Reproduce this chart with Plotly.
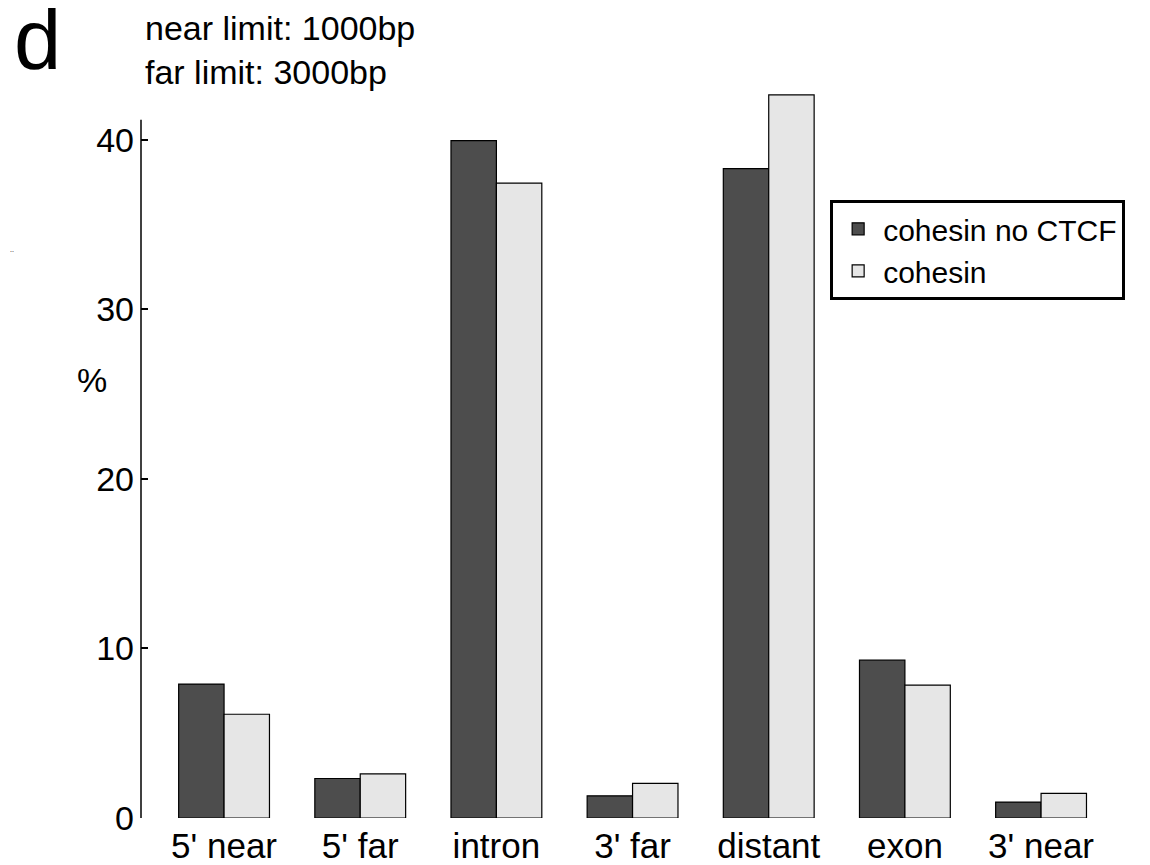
import plotly.graph_objects as go

categories = ["5' near", "5' far", "intron", "3' far", "distant", "exon", "3' near"]
cohesin_no_ctcf = [7.9, 2.33, 39.95, 1.31, 38.3, 9.31, 0.94]
cohesin = [6.12, 2.6, 37.45, 2.04, 42.65, 7.84, 1.45]
y_ticks = [0, 10, 20, 30, 40]
axis_top = 41.18

FONT = "Liberation Sans, Arial, sans-serif"

fig = go.Figure()
fig.add_trace(go.Bar(
    x=categories, y=cohesin_no_ctcf, name="cohesin no CTCF",
    marker=dict(color="#4d4d4d", line=dict(color="black", width=1.2)),
))
fig.add_trace(go.Bar(
    x=categories, y=cohesin, name="cohesin",
    marker=dict(color="#e6e6e6", line=dict(color="black", width=1.2)),
))

fig.update_layout(
    width=1150, height=865,
    margin=dict(l=133, r=8, t=81, b=53),
    paper_bgcolor="white", plot_bgcolor="white",
    barmode="group", bargap=0.333, bargroupgap=0,
    font=dict(family=FONT, color="black"),
    showlegend=True,
    legend=dict(
        x=0.683, y=0.848, xanchor="left", yanchor="top",
        bordercolor="black", borderwidth=3, bgcolor="white",
        font=dict(size=30, family=FONT), tracegroupgap=0,
        itemwidth=40,
    ),
    xaxis=dict(
        type="category", range=[-0.61, 6.8],
        showline=False, showgrid=False, zeroline=False,
        ticks="", tickfont=dict(size=35, family=FONT), ticklabelstandoff=4,
    ),
    yaxis=dict(
        range=[0, 43], tickvals=y_ticks,
        showline=False,
        ticks="inside", ticklen=7, tickwidth=1.5, tickcolor="black",
        showgrid=False, zeroline=False,
        tickfont=dict(size=34, family=FONT), ticklabelstandoff=6,
    ),
    shapes=[dict(type="line", xref="paper", yref="y", x0=0, x1=0, y0=0, y1=axis_top,
                 line=dict(color="black", width=1.5))],
)

fig.add_annotation(text="d", xref="paper", yref="paper", x=-0.1026, y=1.068,
                   xanchor="center", yanchor="middle", showarrow=False,
                   font=dict(size=85, family=FONT))
fig.add_annotation(text="near limit: 1000bp<br>far limit: 3000bp", xref="paper", yref="paper",
                   x=0.002, y=1.053, xanchor="left", yanchor="middle", align="left",
                   showarrow=False, font=dict(size=34, family=FONT))
fig.add_annotation(text="%", xref="paper", yref="paper", x=-0.0486, y=0.601,
                   xanchor="center", yanchor="middle", showarrow=False,
                   font=dict(size=34, family=FONT))
fig.add_annotation(text="..", xref="paper", yref="paper", x=-0.1318, y=0.78,
                   xanchor="left", yanchor="middle", showarrow=False,
                   font=dict(size=7, family=FONT))

fig.write_html("out.html")
